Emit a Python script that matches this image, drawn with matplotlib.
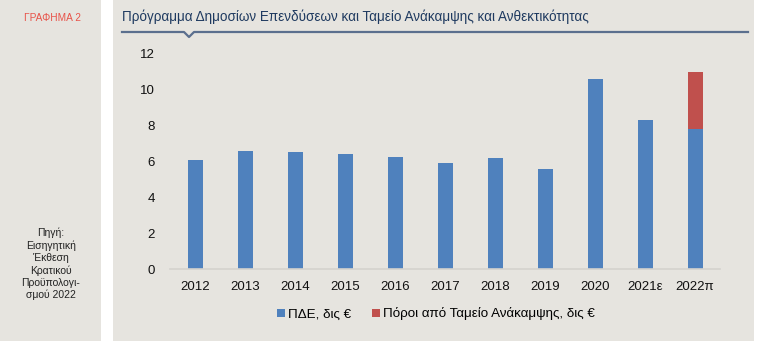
import matplotlib
matplotlib.use('Agg')
from matplotlib import pyplot as plt
from matplotlib.patches import Rectangle
from matplotlib.lines import Line2D

plt.rcParams['font.family'] = ['Liberation Sans', 'DejaVu Sans']

# data (δις €)
years = ['2012', '2013', '2014', '2015', '2016', '2017', '2018', '2019', '2020', '2021ε', '2022π']
pde = [6.1, 6.6, 6.55, 6.4, 6.27, 5.92, 6.2, 5.6, 10.63, 8.32, 7.8]
rrf = [0, 0, 0, 0, 0, 0, 0, 0, 0, 0, 3.2]

blue = '#4f81bd'
red = '#c0504d'
panel = '#e6e4df'

fig = plt.figure(figsize=(7.58, 3.41), dpi=100, facecolor='white')

# two gray panels behind everything
fig.patches.append(Rectangle((0, 0), 101 / 758, 1, transform=fig.transFigure,
                             facecolor=panel, edgecolor='none', zorder=-5))
fig.patches.append(Rectangle((113 / 758, 0), 641 / 758, 1, transform=fig.transFigure,
                             facecolor=panel, edgecolor='none', zorder=-5))

fig.text(52 / 758, 1 - 18 / 341, 'ΓΡΑΦΗΜΑ 2', color='#e8534a', fontsize=7.3,
         ha='center', va='center')
fig.text(51 / 758, 1 - 264 / 341,
         'Πηγή:\nΕισηγητική\nΈκθεση\nΚρατικού\nΠροϋπολογι-\nσμού 2022',
         color='#222222', fontsize=7.5, ha='center', va='center', linespacing=1.25)

fig.text(122 / 758, 1 - 17 / 341,
         'Πρόγραμμα Δημοσίων Επενδύσεων και Ταμείο Ανάκαμψης και Ανθεκτικότητας',
         color='#1f3a60', fontsize=9.75, ha='left', va='center')

# title rule with small notch
lx = [122, 184, 189, 194, 748]
ly = [32, 32, 37, 32, 32]
fig.lines.append(Line2D([x / 758 for x in lx], [1 - y / 341 for y in ly],
                        transform=fig.transFigure, color='#5b6f8e', lw=1.6))

ax = fig.add_axes([170 / 758, 1 - 269 / 341, 550 / 758, 215 / 341])
ax.set_facecolor('none')
x = range(len(years))
ax.bar(x, pde, width=0.3, color=blue, label='ΠΔΕ, δις €', zorder=2)
ax.bar(x, rrf, width=0.3, bottom=pde, color=red,
       label='Πόροι από Ταμείο Ανάκαμψης, δις €', zorder=2)

ax.set_xlim(-0.5, len(years) - 0.5)
ax.set_ylim(0, 12)
ax.set_yticks(range(0, 13, 2))
ax.set_xticks(list(x))
ax.set_xticklabels(years)
ax.tick_params(axis='both', length=0, labelsize=9.5, colors='#111111')
ax.tick_params(axis='y', pad=11)
ax.tick_params(axis='x', pad=9)
for s in ['top', 'right', 'left']:
    ax.spines[s].set_visible(False)
ax.spines['bottom'].set_color('#d4d2ce')
ax.spines['bottom'].set_linewidth(1.2)

fig.legend(loc='center', bbox_to_anchor=(436 / 758, 1 - 314 / 341), ncol=2,
           frameon=False, fontsize=9.6, handlelength=0.55, handleheight=0.55,
           handletextpad=0.25, columnspacing=1.6)

plt.savefig('out.png', dpi=100, facecolor=fig.get_facecolor())
